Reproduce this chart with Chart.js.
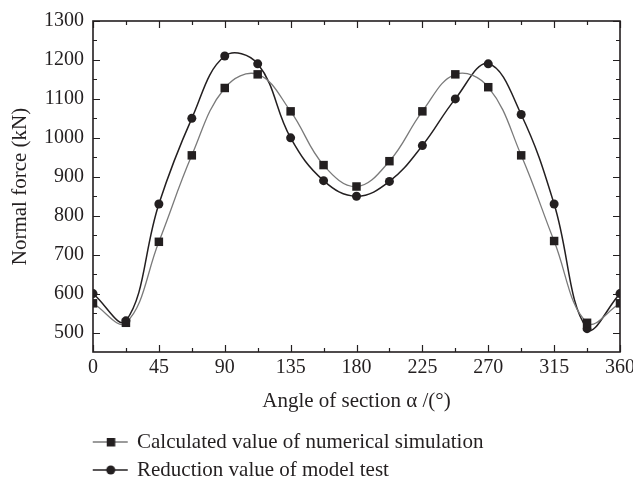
<!DOCTYPE html>
<html><head><meta charset="utf-8">
<script src="https://cdn.jsdelivr.net/npm/chart.js@4/dist/chart.umd.min.js"></script>
<style>html,body{margin:0;padding:0;background:#fff}#wrap{width:633px;height:483px;position:relative}</style>
</head><body><div id="wrap"><canvas id="c" width="633" height="483"></canvas></div>
<script>
const angles = [0, 22.5, 45, 67.5, 90, 112.5, 135, 157.5, 180, 202.5, 225, 247.5, 270, 292.5, 315, 337.5, 360];
const simValues = [575, 525, 733, 955, 1128, 1163, 1068, 930, 875, 940, 1068, 1163, 1130, 955, 735, 525, 575];
const testValues = [600, 530, 830, 1050, 1210, 1190, 1000, 890, 850, 888, 980, 1100, 1190, 1060, 830, 510, 600];
const seriesNames = ['Calculated value of numerical simulation', 'Reduction value of model test'];
const xTicks = [0, 45, 90, 135, 180, 225, 270, 315, 360];
const xMinorTicks = [22.5, 67.5, 112.5, 157.5, 202.5, 247.5, 292.5, 337.5];
const yTicks = [500, 600, 700, 800, 900, 1000, 1100, 1200, 1300];
const yMinorTicks = [550, 650, 750, 850, 950, 1050, 1150, 1250];
const xTitle = 'Angle of section \u03b1 /(\u00b0)';
const yTitle = 'Normal force (kN)';

const INK = '#231f20';
const FONT = '"Liberation Serif", "DejaVu Serif", serif';

function legendImg(kind, color) {
  const c = document.createElement('canvas');
  c.width = 124; c.height = 14;
  const g = c.getContext('2d');
  g.strokeStyle = color; g.lineWidth = 1.4;
  g.beginPath(); g.moveTo(88, 7); g.lineTo(123, 7); g.stroke();
  g.fillStyle = INK;
  if (kind === 'rect') { g.fillRect(102, 3, 8.5, 8.5); }
  else { g.beginPath(); g.arc(106, 7, 4.5, 0, Math.PI * 2); g.fill(); }
  return c;
}
const legendImgs = [legendImg('rect', '#7a7a7a'), legendImg('circle', INK)];

const frameTicks = {
  id: 'frameTicks',
  afterDraw(chart) {
    const {ctx, chartArea: a, scales: {x, y}} = chart;
    ctx.save();
    ctx.strokeStyle = INK;
    ctx.lineWidth = 1.2;
    ctx.beginPath();
    const drawX = (v, len) => {
      const px = Math.round(x.getPixelForValue(v)) + 0.5;
      ctx.moveTo(px, a.bottom); ctx.lineTo(px, a.bottom - len);
      ctx.moveTo(px, a.top); ctx.lineTo(px, a.top + len);
    };
    const drawY = (v, len) => {
      const py = Math.round(y.getPixelForValue(v)) + 0.5;
      ctx.moveTo(a.left, py); ctx.lineTo(a.left + len, py);
      ctx.moveTo(a.right, py); ctx.lineTo(a.right - len, py);
    };
    xTicks.forEach(v => drawX(v, 7));
    xMinorTicks.forEach(v => drawX(v, 4));
    yTicks.forEach(v => drawY(v, 7));
    yMinorTicks.forEach(v => drawY(v, 4));
    ctx.stroke();
    ctx.lineWidth = 1.6;
    ctx.strokeRect(a.left, a.top, a.right - a.left, a.bottom - a.top);
    ctx.restore();
  }
};

const toPts = vals => angles.map((a, i) => ({x: a, y: vals[i]}));

new Chart(document.getElementById('c'), {
  type: 'line',
  data: {
    datasets: [
      {
        label: seriesNames[0], data: toPts(simValues),
        borderColor: '#7a7a7a', borderWidth: 1.3, tension: 0.4,
        pointStyle: 'rect', pointRadius: 6, pointBackgroundColor: INK, pointBorderWidth: 0,
        clip: 0
      },
      {
        label: seriesNames[1], data: toPts(testValues),
        borderColor: INK, borderWidth: 1.5, tension: 0.4,
        pointStyle: 'circle', pointRadius: 4.5, pointBackgroundColor: INK, pointBorderWidth: 0,
        clip: 0
      }
    ]
  },
  options: {
    responsive: false,
    animation: false,
    devicePixelRatio: 1,
    layout: {padding: {left: 0, right: 13, top: 17, bottom: -7.5}},
    plugins: {
      tooltip: {enabled: false},
      legend: {
        position: 'bottom', align: 'start',
        labels: {
          usePointStyle: true, pointStyleWidth: 119.5, padding: 7,
          color: INK, font: {family: FONT, size: 21},
          generateLabels: chart => chart.data.datasets.map((ds, i) => ({
            text: ds.label, pointStyle: legendImgs[i], datasetIndex: i, hidden: false,
            lineWidth: 0, strokeStyle: 'rgba(0,0,0,0)', fillStyle: 'rgba(0,0,0,0)', fontColor: INK
          }))
        }
      }
    },
    scales: {
      x: {
        type: 'linear', min: 0, max: 360,
        afterBuildTicks: s => { s.ticks = xTicks.map(v => ({value: v})); },
        afterFit: s => { s.height = 72.5; s.paddingLeft = 0; s.paddingRight = 0; },
        grid: {display: false, drawTicks: false},
        border: {display: false},
        ticks: {color: INK, font: {family: FONT, size: 20}, padding: 4, maxRotation: 0, autoSkip: false,
                callback: v => String(v)},
        title: {display: true, text: xTitle, color: INK, font: {family: FONT, size: 21}, padding: {top: 0, bottom: 10}}
      },
      y: {
        type: 'linear', min: 450, max: 1300,
        afterBuildTicks: s => { s.ticks = yTicks.map(v => ({value: v})); },
        afterFit: s => { s.width = 93; },
        grid: {display: false, drawTicks: false},
        border: {display: false},
        ticks: {color: INK, font: {family: FONT, size: 20}, padding: 9, autoSkip: false,
                callback: v => String(v)},
        title: {display: true, text: yTitle, color: INK, font: {family: FONT, size: 21}, padding: {top: 8, bottom: 0}}
      }
    }
  },
  plugins: [frameTicks]
});
</script></body></html>
